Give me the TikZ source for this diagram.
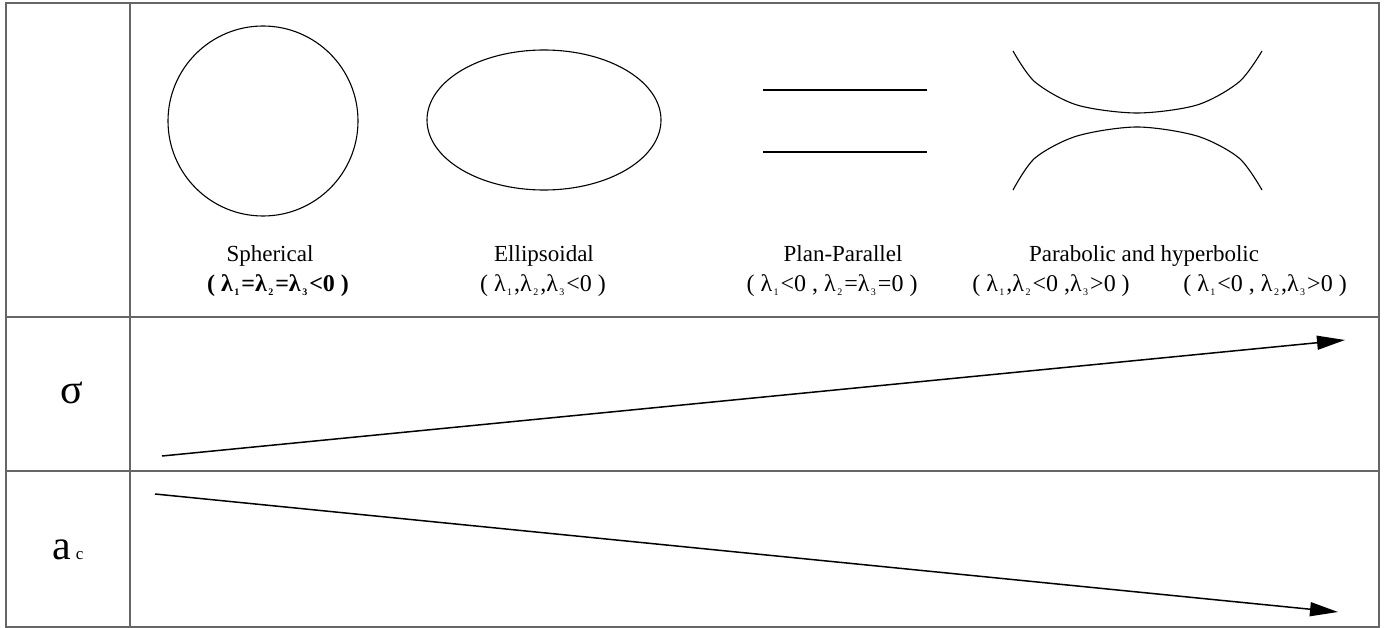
\documentclass[tikz,border=0pt]{standalone}
\usepackage{fontspec}
\setmainfont{Liberation Serif}
\usetikzlibrary{arrows.meta}
\newcommand\lm[1]{λ\kern1.5pt\raisebox{-0.18em}{\fontsize{10}{10}\selectfont #1}\kern2pt}
\begin{document}
\begin{tikzpicture}[x=1pt,y=-1pt,
  grid/.style={draw=black!60,line width=1.5pt},
  curve/.style={draw=black,line width=1.1pt},
  trend/.style={draw=black,line width=1.5pt,-{Triangle[length=28pt,width=14pt]}},
  lbl/.style={font=\fontsize{23}{25}\selectfont,inner sep=0pt,anchor=base},
  cond/.style={font=\fontsize{24}{26}\selectfont,inner sep=0pt,anchor=base},
  sym/.style={font=\fontsize{42}{44}\selectfont,inner sep=0pt,anchor=base}]
\useasboundingbox (0,0) rectangle (1392,628);
% table frame
\draw[grid] (6,3) rectangle (1379,627);
\draw[grid] (130,3) -- (130,627);
\draw[grid] (6,317) -- (1379,317);
\draw[grid] (6,471) -- (1379,471);
% shapes of the structures
\draw[curve] (263,121) circle (95);
\draw[curve] (544,120) ellipse (117 and 70);
\draw[curve] (763,90) -- (927,90);
\draw[curve] (763,152) -- (927,152);
\draw[curve] plot[smooth,tension=0.5] coordinates {(1013,51) (1035,82) (1077,105) (1137,113) (1197,105) (1239,82) (1262,51)};
\draw[curve] plot[smooth,tension=0.5] coordinates {(1013,190) (1035,158) (1077,136) (1137,127) (1197,136) (1239,158) (1262,190)};
% names and eigenvalue conditions
\node[lbl] (n1) at (270,262) {Spherical};
\node[lbl] (n2) at (544,262) {Ellipsoidal};
\node[lbl] (n3) at (843,262) {Plan-Parallel};
\node[lbl] (n4) at (1144,262) {Parabolic and hyperbolic};
\node[cond] (c1) at (278,291) {\bfseries ( \lm{1}=\lm{2}=\lm{3}<0 )};
\node[cond] (c2) at (543,291) {( \lm{1},\lm{2},\lm{3}<0 )};
\node[cond] (c3) at (832,291) {( \lm{1}<0 , \lm{2}=\lm{3}=0 )};
\node[cond] (c4) at (1051,291) {( \lm{1},\lm{2}<0 ,\lm{3}>0 )};
\node[cond] (c5) at (1265,291) {( \lm{1}<0 , \lm{2},\lm{3}>0 )};
% row headers
\node[sym] (s) at (72,403) {σ};
\node[sym,anchor=base west] (a) at (52,559) {a\kern5pt\fontsize{17}{17}\selectfont c};
% trends
\coordinate (s0) at (162,456);
\coordinate (s1) at (1345,340);
\coordinate (a0) at (155,494);
\coordinate (a1) at (1338,612);
\draw[trend] (s0) -- (s1);
\draw[trend] (a0) -- (a1);
\end{tikzpicture}
\end{document}
